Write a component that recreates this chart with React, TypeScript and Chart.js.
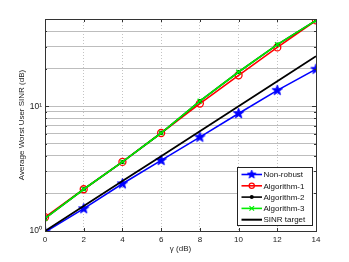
import React, { useEffect, useRef } from "react";
import { Chart, registerables } from "chart.js";

Chart.register(...registerables);

const gammaDb = [0, 2, 4, 6, 8, 10, 12, 14];
const nonRobust = [0.98, 1.51, 2.39, 3.68, 5.65, 8.74, 13.4, 19.8];
const algorithm1 = [1.29, 2.16, 3.58, 6.1, 10.5, 17.7, 29.6, 48.7];
const algorithm2 = [1.26, 2.16, 3.58, 6.1, 11.0, 18.8, 31.2, 48.7];
const algorithm3 = [1.26, 2.16, 3.58, 6.1, 11.0, 18.8, 31.2, 48.7];
const sinrTarget = [1, 1.585, 2.512, 3.981, 6.31, 10, 15.85, 25.12];
const yTickValues = [1, 2, 3, 4, 5, 6, 7, 8, 9, 10, 20, 30, 40, 50];
const yTickLabels: Record<number, string> = { 1: "10\u2070", 10: "10\u00B9" };
const seriesNames = ["Non-robust", "Algorithm-1", "Algorithm-2", "Algorithm-3", "SINR target"];

const FONT = "'Liberation Sans', Arial, sans-serif";

function makeStar(color: string, R: number): HTMLCanvasElement {
  const size = Math.ceil(R * 2 + 2);
  const c = document.createElement("canvas");
  c.width = size;
  c.height = size;
  const ctx = c.getContext("2d")!;
  const cx = size / 2, cy = size / 2, r = R * 0.42;
  ctx.beginPath();
  for (let i = 0; i < 10; i++) {
    const rad = i % 2 === 0 ? R : r;
    const a = -Math.PI / 2 + (i * Math.PI) / 5;
    const x = cx + rad * Math.cos(a), y = cy + rad * Math.sin(a);
    if (i === 0) ctx.moveTo(x, y); else ctx.lineTo(x, y);
  }
  ctx.closePath();
  ctx.fillStyle = color;
  ctx.fill();
  ctx.strokeStyle = color;
  ctx.lineWidth = 0.8;
  ctx.stroke();
  return c;
}

export default function App() {
  const ref = useRef<HTMLCanvasElement>(null);

  useEffect(() => {
    const star = makeStar("#0000ff", 5.5);
    const legendStar = makeStar("#0000ff", 4.5);

    const framePlugin = {
      id: "frame",
      afterDatasetsDraw(chart: any) {
        const { ctx, chartArea: a } = chart;
        ctx.save();
        ctx.strokeStyle = "#333";
        ctx.lineWidth = 1;
        ctx.strokeRect(Math.round(a.left) + 0.5, Math.round(a.top) + 0.5, Math.round(a.right - a.left), Math.round(a.bottom - a.top));
        const xs = chart.scales.x;
        ctx.beginPath();
        for (const v of gammaDb) {
          const px = Math.round(xs.getPixelForValue(v)) + 0.5;
          ctx.moveTo(px, a.bottom); ctx.lineTo(px, a.bottom - 3);
          ctx.moveTo(px, a.top); ctx.lineTo(px, a.top + 3);
        }
        const ys = chart.scales.y;
        for (const v of yTickValues) {
          const py = Math.round(ys.getPixelForValue(v)) + 0.5;
          const len = v === 1 || v === 10 ? 4 : 2;
          ctx.moveTo(a.left, py); ctx.lineTo(a.left + len, py);
          ctx.moveTo(a.right, py); ctx.lineTo(a.right - len, py);
        }
        ctx.stroke();
        ctx.restore();
      },
      afterDraw(chart: any) {
        const { ctx, chartArea: a } = chart;
        ctx.save();
        ctx.font = `8px ${FONT}`;
        const w = 75, rowH = 11.3, h = 58;
        const x0 = Math.round(a.right - 4 - w) + 0.5;
        const y0 = Math.round(a.bottom - 6 - h) + 0.5;
        ctx.fillStyle = "#fff";
        ctx.fillRect(x0, y0, w, h);
        ctx.strokeStyle = "#222";
        ctx.lineWidth = 1;
        ctx.strokeRect(x0, y0, w, h);
        const styles = [
          { color: "#0000ff", marker: "star" },
          { color: "#ff0000", marker: "circle" },
          { color: "#000000", marker: "dot" },
          { color: "#00ee00", marker: "x" },
          { color: "#000000", marker: "none" },
        ];
        styles.forEach((s, i) => {
          const cy = y0 + 7 + i * rowH;
          const lx1 = x0 + 4, lx2 = x0 + 24.5, mx = (lx1 + lx2) / 2;
          ctx.strokeStyle = s.color;
          ctx.lineWidth = s.marker === "none" ? 2 : 1.6;
          ctx.beginPath(); ctx.moveTo(lx1, cy); ctx.lineTo(lx2, cy); ctx.stroke();
          ctx.lineWidth = 1.2;
          if (s.marker === "star") {
            ctx.drawImage(legendStar, mx - legendStar.width / 2, cy - legendStar.height / 2);
          } else if (s.marker === "circle") {
            ctx.beginPath(); ctx.arc(mx, cy, 2.6, 0, Math.PI * 2); ctx.stroke();
          } else if (s.marker === "dot") {
            ctx.fillStyle = s.color;
            ctx.beginPath(); ctx.arc(mx, cy, 2, 0, Math.PI * 2); ctx.fill();
          } else if (s.marker === "x") {
            ctx.beginPath();
            ctx.moveTo(mx - 2.3, cy - 2.3); ctx.lineTo(mx + 2.3, cy + 2.3);
            ctx.moveTo(mx - 2.3, cy + 2.3); ctx.lineTo(mx + 2.3, cy - 2.3);
            ctx.stroke();
          }
          ctx.fillStyle = "#111";
          ctx.textBaseline = "middle";
          ctx.textAlign = "left";
          ctx.fillText(seriesNames[i], x0 + 26, cy + 0.5);
        });
        ctx.restore();
      },
    };

    const pts = (arr: number[]) => gammaDb.map((g, i) => ({ x: g, y: arr[i] }));

    const chart = new Chart(ref.current!, {
      type: "line",
      data: {
        datasets: [
          {
            label: seriesNames[0], data: pts(nonRobust), borderColor: "#0000ff", backgroundColor: "#0000ff",
            borderWidth: 1.6, pointStyle: star as any, pointRadius: 5.5, order: 4,
          },
          {
            label: seriesNames[1], data: pts(algorithm1), borderColor: "#ff0000", backgroundColor: "rgba(0,0,0,0)",
            borderWidth: 1.6, pointStyle: "circle", pointRadius: 3.5, pointBorderWidth: 1.3, order: 3,
          },
          {
            label: seriesNames[2], data: pts(algorithm2), borderColor: "#000000", backgroundColor: "#000000",
            borderWidth: 1.6, pointStyle: "circle", pointRadius: 2, pointBorderWidth: 0, order: 2,
          },
          {
            label: seriesNames[3], data: pts(algorithm3), borderColor: "#00ee00", backgroundColor: "#00ee00",
            borderWidth: 1.6, pointStyle: "crossRot", pointRadius: 3.2, pointBorderWidth: 1.3, order: 1,
          },
          {
            label: seriesNames[4], data: pts(sinrTarget), borderColor: "#000000", backgroundColor: "#000000",
            borderWidth: 1.8, pointRadius: 0, order: 0,
          },
        ],
      },
      options: {
        animation: false,
        responsive: true,
        maintainAspectRatio: false,
        layout: { padding: { top: 19, right: 33, left: 0, bottom: 0 } },
        plugins: { legend: { display: false }, tooltip: { enabled: false } },
        scales: {
          x: {
            type: "linear",
            min: 0,
            max: 14,
            afterFit: (s: any) => { s.height = 31; },
            afterBuildTicks: (s: any) => { s.ticks = gammaDb.map((v) => ({ value: v })); },
            ticks: { color: "#222", font: { family: FONT, size: 8 }, padding: 4 },
            grid: { color: "#c4c4c4", lineWidth: 1, drawTicks: false } as any,
            border: { display: false, dash: [1, 2] } as any,
            title: { display: true, text: "\u03B3 (dB)", color: "#222", font: { family: FONT, size: 8 }, padding: { top: 0, bottom: 8 } },
          },
          y: {
            type: "logarithmic",
            min: 1,
            max: 50,
            afterFit: (s: any) => { s.width = 45; },
            afterBuildTicks: (s: any) => { s.ticks = yTickValues.map((v) => ({ value: v })); },
            ticks: {
              autoSkip: false,
              color: "#222",
              font: { family: FONT, size: 8.5 },
              padding: 3,
              callback: (v: any) => yTickLabels[Number(v)] ?? "",
            },
            grid: { color: "#bdbdbd", lineWidth: 1, drawTicks: false },
            border: { display: false },
            title: { display: true, text: "Average Worst User SINR (dB)", color: "#222", font: { family: FONT, size: 8 }, padding: { top: 17, bottom: 0 } },
          },
        },
      },
      plugins: [framePlugin],
    } as any);

    return () => chart.destroy();
  }, []);

  return (
    <div style={{ position: "absolute", left: 0, top: 0, width: 349, height: 262, background: "#fff" }}>
      <canvas ref={ref} />
    </div>
  );
}
